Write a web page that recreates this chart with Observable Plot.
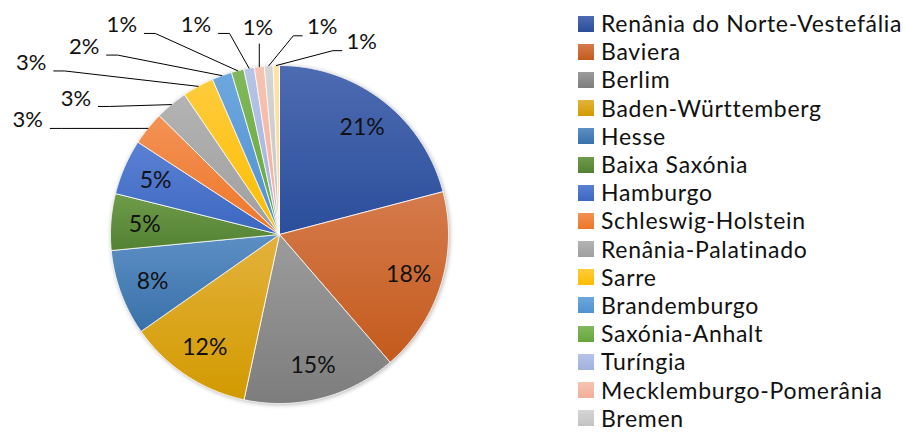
<!DOCTYPE html>
<html><head><meta charset="utf-8">
<script src="https://cdn.jsdelivr.net/npm/d3@7"></script>
<script src="https://cdn.jsdelivr.net/npm/@observablehq/plot@0.6"></script>
<style>
body{margin:0;background:#fff;}
#wrap{position:relative;width:903px;height:432px;font-family:Lato,"Open Sans",sans-serif;overflow:hidden;}
#chart{position:absolute;left:0;top:0;}
#legend{position:absolute;left:578px;top:9.5px;}
.row{display:flex;align-items:center;height:28.2px;}
.sw{width:16px;height:16px;margin-right:7px;flex:none;}
.lab{font-size:23px;color:#111;white-space:nowrap;line-height:27px;letter-spacing:0.7px;}
</style></head><body>
<div id="wrap"><div id="chart"></div><div id="legend"></div></div>
<script>
// ---- data ----
const states = ["Renânia do Norte-Vestefália","Baviera","Berlim","Baden-Württemberg","Hesse","Baixa Saxónia","Hamburgo","Schleswig-Holstein","Renânia-Palatinado","Sarre","Brandemburgo","Saxónia-Anhalt","Turíngia","Mecklemburgo-Pomerânia","Bremen","Saxónia"];
const values = [20.9, 17.7, 14.7, 11.9, 8.2, 5.4, 5.3, 3.2, 3.1, 3.0, 1.9, 1.2, 1.0, 0.95, 0.83, 0.6];
const colorsTop = ["#4d6bb1","#d57b4c","#9c9c9c","#e3b23c","#5d8fc4","#6e9c4a","#5b81d4","#f39256","#b3b3b3","#ffcb3c","#6ea7dd","#82b85c","#b6c4e7","#f7c4b2","#d5d5d5","#ffe3a8"];
const colorsBottom = ["#2b4e9b","#c45a1c","#7d7d7d","#d29a00","#3871a9","#528133","#3c67c0","#ee7628","#9f9f9f","#fdbd00","#4e91d2","#65a63b","#a1b1de","#f2ae98","#c3c3c3","#ffd48e"];
const legendStates = states.slice(0, 15); // the reference legend is cut off after Bremen
const insideCount = 7;

// ---- label layout (in pie-radius units, label centres) ----
const outsideLayout = [
  {u:-1.490, v:0.675, side:"L"},
  {u:-1.205, v:0.805, side:"L"},
  {u:-1.469, v:1.015, side:"L"},
  {u:-1.156, v:1.109, side:"L"},
  {u:-0.933, v:1.237, side:"L"},
  {u:-0.494, v:1.237, side:"L"},
  {u:-0.127, v:1.222, side:"B"},
  {u: 0.253, v:1.229, side:"R"},
  {u: 0.487, v:1.141, side:"R"}
];

const RPX = 169; // pie radius in px (for small pixel offsets)
const total = d3.sum(values);
const arcs = d3.pie().sort(null).value(d => d)(values);

const slicePts = [];
arcs.forEach((a, i) => {
  slicePts.push({name: states[i], x: 0, y: 0});
  const n = Math.max(2, Math.ceil((a.endAngle - a.startAngle) / (Math.PI / 360)));
  for (let k = 0; k <= n; k++) {
    const t = a.startAngle + (a.endAngle - a.startAngle) * k / n;
    slicePts.push({name: states[i], x: Math.sin(t), y: Math.cos(t)});
  }
  slicePts.push({name: states[i], x: 0, y: 0});
});

const pct = v => Math.round(v / total * 100) + "%";
const mid = a => (a.startAngle + a.endAngle) / 2;

const insideLabels = arcs.slice(0, insideCount).map((a, i) => ({
  x: 0.8 * Math.sin(mid(a)), y: 0.8 * Math.cos(mid(a)), text: pct(values[i])
}));

const outsideLabels = [];
const leaderPts = [];
outsideLayout.forEach((L, j) => {
  const i = insideCount + j;
  const a = arcs[i];
  outsideLabels.push({x: L.u, y: L.v, text: pct(values[i])});
  const ex = Math.sin(mid(a)), ey = Math.cos(mid(a));
  let pts;
  if (L.side === "L") {
    const sx = L.u + 22.5 / RPX, sy = L.v - 8 / RPX;
    pts = [[sx, sy], [sx + 11 / RPX, sy], [ex, ey]];
  } else if (L.side === "R") {
    const sx = L.u - 20 / RPX, sy = L.v - 9 / RPX;
    pts = [[sx, sy], [sx - 9 / RPX, sy], [ex, ey]];
  } else {
    pts = [[ex, L.v - 16 / RPX], [ex, ey]];
  }
  pts.forEach(p => leaderPts.push({id: j, x: p[0], y: p[1]}));
});

const plot = Plot.plot({
  width: 570, height: 432,
  marginLeft: 110, marginRight: 122, marginTop: 65, marginBottom: 29,
  x: {domain: [-1, 1], axis: null},
  y: {domain: [-1, 1], axis: null},
  color: {domain: states, range: states.map((d, i) => `url(#grad${i})`)},
  style: {background: "transparent", overflow: "visible"},
  marks: [
    Plot.line(slicePts, {x: "x", y: "y", z: "name", fill: "name", stroke: "white", strokeWidth: 0.8, strokeLinejoin: "round"}),
    Plot.line(leaderPts, {x: "x", y: "y", z: "id", stroke: "#000", strokeWidth: 1}),
    Plot.text(insideLabels, {x: "x", y: "y", text: "text", fontSize: 23, fontFamily: "Lato", fill: "#111"}),
    Plot.text(outsideLabels, {x: "x", y: "y", text: "text", fontSize: 22, fontFamily: "Lato", fill: "#111"})
  ]
});

const ns = "http://www.w3.org/2000/svg";
const defs = document.createElementNS(ns, "defs");
states.forEach((s, i) => {
  const g = document.createElementNS(ns, "linearGradient");
  g.setAttribute("id", "grad" + i);
  g.setAttribute("x1", "0"); g.setAttribute("y1", "0");
  g.setAttribute("x2", "0"); g.setAttribute("y2", "1");
  [[0, colorsTop[i]], [1, colorsBottom[i]]].forEach(([o, c]) => {
    const st = document.createElementNS(ns, "stop");
    st.setAttribute("offset", o);
    st.setAttribute("stop-color", c);
    g.appendChild(st);
  });
  defs.appendChild(g);
});
plot.insertBefore(defs, plot.firstChild);
const sliceG = plot.querySelector('g[aria-label="line"]');
if (sliceG) sliceG.style.filter = "drop-shadow(1.5px 1.5px 2px rgba(0,0,0,0.28))";
document.getElementById("chart").appendChild(plot);

const legend = document.getElementById("legend");
legendStates.forEach((s, i) => {
  const row = document.createElement("div");
  row.className = "row";
  const sw = document.createElement("div");
  sw.className = "sw";
  sw.style.background = `linear-gradient(${colorsTop[i]}, ${colorsBottom[i]})`;
  const lab = document.createElement("div");
  lab.className = "lab";
  lab.textContent = s;
  row.appendChild(sw); row.appendChild(lab);
  legend.appendChild(row);
});
</script>
</body></html>
